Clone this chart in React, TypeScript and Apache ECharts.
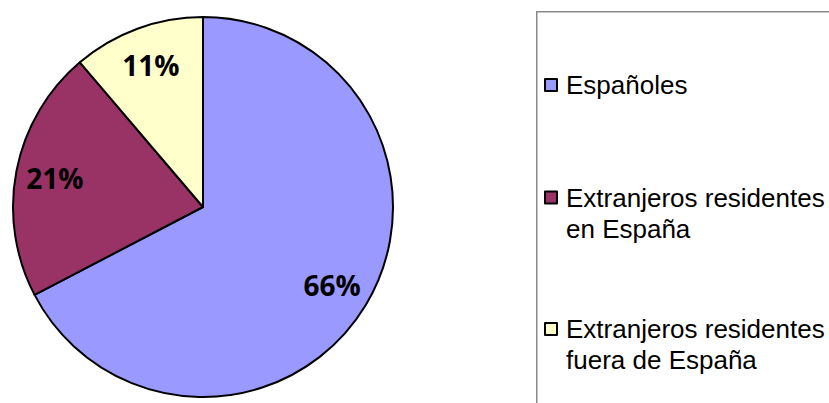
import React, { useEffect, useRef } from "react";
import * as echarts from "echarts";

const categories = [
  "Españoles",
  "Extranjeros residentes\nen España",
  "Extranjeros residentes\nfuera de España",
];
const values = [66, 21, 11];
const colors = ["#9999FF", "#993366", "#FFFFCC"];

export default function App() {
  const ref = useRef<HTMLDivElement>(null);
  useEffect(() => {
    document.body.style.margin = "0";
    if (!ref.current) return;
    const chart = echarts.init(ref.current, undefined, { renderer: "svg" });
    const data = categories.map((name, i) => ({
      name,
      value: values[i],
      itemStyle: { color: colors[i] },
    }));
    const legendText = {
      fontSize: 26,
      lineHeight: 31,
      fontFamily: "Liberation Sans, Arial, sans-serif",
      color: "#000",
      padding: [0, 0, 0, 4],
    };
    const legendTops = [69.5, 151, 282.5];
    const legends = categories.map((name, i) => ({
      left: 544,
      top: legendTops[i],
      padding: 0,
      orient: "vertical",
      icon: "rect",
      itemWidth: 12,
      itemHeight: 12,
      selectedMode: false,
      formatter: (n: string) => (n.includes("\n") ? "\n" + n : n),
      data: [
        {
          name,
          itemStyle: { color: colors[i], borderColor: "#000", borderWidth: 2 },
        },
      ],
      textStyle: legendText,
    }));
    chart.setOption({
      animation: false,
      backgroundColor: "#fff",
      graphic: [
        {
          type: "rect",
          left: 536,
          top: 11,
          shape: { width: 400, height: 500 },
          style: { fill: "transparent", stroke: "#8a8a8a", lineWidth: 1.5 },
          z: -1,
        },
      ],
      legend: legends,
      series: [
        {
          type: "pie",
          center: [203, 207],
          radius: 190,
          startAngle: 90,
          clockwise: true,
          label: { show: false },
          labelLine: { show: false },
          itemStyle: { borderColor: "#000", borderWidth: 2 },
          emphasis: { disabled: true },
          data,
        },
        {
          type: "pie",
          center: [203, 207],
          radius: [106, 190],
          startAngle: 90,
          clockwise: true,
          silent: true,
          itemStyle: { color: "transparent", borderWidth: 0 },
          label: {
            show: true,
            position: "inside",
            formatter: (p: any) => `${p.value}%`,
            fontFamily: "Open Sans, sans-serif",
            fontWeight: "bold",
            fontSize: 28,
            color: "#000",
          },
          labelLine: { show: false },
          emphasis: { disabled: true },
          data: categories.map((name, i) => ({ name, value: values[i] })),
        },
      ],
    });
    return () => chart.dispose();
  }, []);
  return <div ref={ref} style={{ width: 829, height: 403 }} />;
}
